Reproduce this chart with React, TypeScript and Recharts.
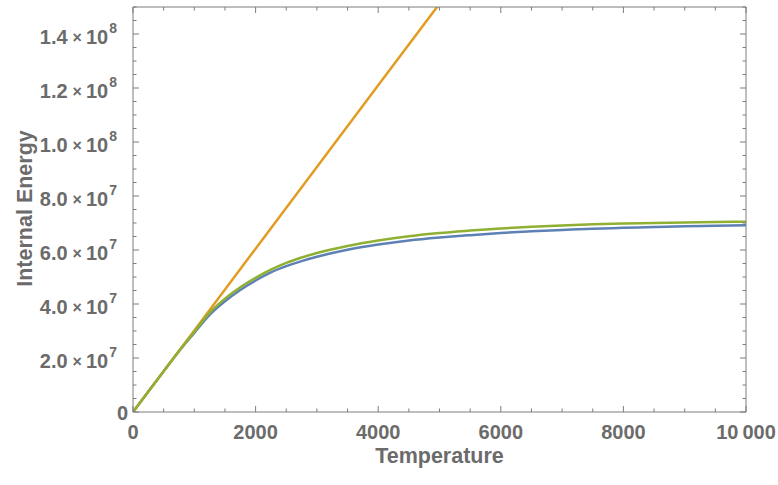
import React from 'react';
import { LineChart, Line, XAxis, YAxis } from 'recharts';

// Temperature samples (K)
const temps = [0, 250, 500, 750, 1000, 1250, 1500, 1750, 2000, 2250, 2500, 2750, 3000, 3500, 4000, 4500, 5000, 5500, 6000, 6500, 7000, 7500, 8000, 8500, 9000, 9500, 10000];
// Blue series (internal energy)
const blueValues = [0, 7.55e6, 1.51e7, 2.25e7, 2.93e7, 3.6e7, 4.1e7, 4.52e7, 4.87e7, 5.17e7, 5.4e7, 5.59e7, 5.75e7, 6.01e7, 6.2e7, 6.35e7, 6.46e7, 6.55e7, 6.63e7, 6.69e7, 6.74e7, 6.79e7, 6.82e7, 6.85e7, 6.88e7, 6.9e7, 6.92e7];
// Green series
const greenValues = [0, 7.55e6, 1.51e7, 2.26e7, 2.97e7, 3.68e7, 4.2e7, 4.62e7, 4.97e7, 5.27e7, 5.52e7, 5.72e7, 5.89e7, 6.15e7, 6.35e7, 6.51e7, 6.63e7, 6.72e7, 6.8e7, 6.86e7, 6.91e7, 6.95e7, 6.98e7, 7.0e7, 7.02e7, 7.04e7, 7.05e7];
// Orange (linear) series
const orangeTemps = [0, 1000, 2000, 3000, 4000, 5000];
const orangeValues = [0, 3.02e7, 6.05e7, 9.07e7, 1.21e8, 1.512e8];

// Tick labels
const xMajorTicks = [0, 2000, 4000, 6000, 8000, 10000];
const xTickLabels = ['0', '2000', '4000', '6000', '8000', '10\u2009000'];
const yMajorTicks = [0, 2e7, 4e7, 6e7, 8e7, 1e8, 1.2e8, 1.4e8];
const yTickMantissas = ['0', '2.0', '4.0', '6.0', '8.0', '1.0', '1.2', '1.4'];
const yTickExponents = ['', '7', '7', '7', '7', '8', '8', '8'];

const xAllTicks = Array.from({ length: 21 }, (_, i) => i * 500);
const yAllTicks = Array.from({ length: 31 }, (_, i) => i * 5e6);

const blueData = temps.map((t, i) => ({ t, u: blueValues[i] }));
const greenData = temps.map((t, i) => ({ t, u: greenValues[i] }));
const orangeData = orangeTemps.map((t, i) => ({ t, u: orangeValues[i] }));

const FRAME = '#7d7d7d';
const TEXT = '#6b6b6b';
const FONT = '"Liberation Sans", Arial, sans-serif';

const isMajorX = (v: number) => xMajorTicks.indexOf(v) >= 0;
const isMajorY = (v: number) => yMajorTicks.some((m) => Math.abs(m - v) < 1);

const BottomTick = (props: any) => {
  const { x, y, payload } = props;
  const v = payload.value;
  const idx = xMajorTicks.indexOf(v);
  const major = idx >= 0;
  return (
    <g>
      <line x1={x} x2={x} y1={y} y2={y - (major ? 6 : 3.5)} stroke={FRAME} strokeWidth={1} />
      {major && (
        <text x={x} y={y + 27} textAnchor="middle" fill={TEXT} fontFamily={FONT} fontWeight="bold" fontSize={20}>
          {xTickLabels[idx]}
        </text>
      )}
    </g>
  );
};

const TopTick = (props: any) => {
  const { x, y, payload } = props;
  const major = isMajorX(payload.value);
  return <line x1={x} x2={x} y1={y} y2={y + (major ? 6 : 3.5)} stroke={FRAME} strokeWidth={1} />;
};

const LeftTick = (props: any) => {
  const { x, y, payload } = props;
  const v = payload.value;
  const idx = yMajorTicks.findIndex((m) => Math.abs(m - v) < 1);
  const major = idx >= 0;
  let label: any = null;
  if (major) {
    const exp = yTickExponents[idx];
    if (exp === '') {
      label = (
        <text x={x - 5} y={y + 8} textAnchor="end" fill={TEXT} fontFamily={FONT} fontWeight="bold" fontSize={20}>
          {yTickMantissas[idx]}
        </text>
      );
    } else {
      label = (
        <text x={x - 16} y={y + 10} textAnchor="end" fill={TEXT} fontFamily={FONT} fontWeight="bold" fontSize={20}>
          <tspan>{yTickMantissas[idx]}</tspan>
          <tspan fontSize={16} dx={5} dy={-1}>{'\u00d7'}</tspan>
          <tspan dx={4} dy={1}>10</tspan>
          <tspan fontSize={14} dx={1} dy={-11}>{exp}</tspan>
        </text>
      );
    }
  }
  return (
    <g>
      <line x1={x} x2={x + (major ? 6 : 3.5)} y1={y} y2={y} stroke={FRAME} strokeWidth={1} />
      {label}
    </g>
  );
};

const RightTick = (props: any) => {
  const { x, y, payload } = props;
  const major = isMajorY(payload.value);
  return <line x1={x} x2={x - (major ? 6 : 3.5)} y1={y} y2={y} stroke={FRAME} strokeWidth={1} />;
};

const XLabel = (props: any) => {
  const vb = props.viewBox || { x: 133, y: 412, width: 613, height: 73 };
  return (
    <text x={vb.x + vb.width / 2} y={463} textAnchor="middle" fill={TEXT} fontFamily={FONT} fontWeight="bold" fontSize={21.5}>
      Temperature
    </text>
  );
};

const YLabel = (props: any) => {
  const vb = props.viewBox || { x: 0, y: 7, width: 133, height: 405 };
  const cy = vb.y + vb.height / 2 - 1;
  return (
    <text x={32} y={cy} transform={`rotate(-90, 32, ${cy})`} textAnchor="middle" fill={TEXT} fontFamily={FONT} fontWeight="bold" fontSize={21.5}>
      Internal Energy
    </text>
  );
};

export default function App() {
  return (
    <div style={{ position: 'absolute', left: 0, top: 0, width: 778, height: 485, background: '#fff' }}>
      <LineChart width={778} height={485} margin={{ top: 0, right: 0, bottom: 0, left: 0 }}>
        <XAxis
          dataKey="t"
          type="number"
          domain={[0, 10000]}
          ticks={xAllTicks}
          interval={0}
          height={73}
          tickSize={0}
          tickMargin={0}
          tickLine={false}
          axisLine={{ stroke: FRAME, strokeWidth: 1 }}
          tick={<BottomTick />}
          label={<XLabel />}
          allowDataOverflow
        />
        <XAxis
          xAxisId="top"
          orientation="top"
          dataKey="t"
          type="number"
          domain={[0, 10000]}
          ticks={xAllTicks}
          interval={0}
          height={7}
          tickSize={0}
          tickMargin={0}
          tickLine={false}
          axisLine={{ stroke: FRAME, strokeWidth: 1 }}
          tick={<TopTick />}
          allowDataOverflow
        />
        <YAxis
          type="number"
          domain={[0, 1.5e8]}
          ticks={yAllTicks}
          interval={0}
          width={133}
          tickSize={0}
          tickMargin={0}
          tickLine={false}
          axisLine={{ stroke: FRAME, strokeWidth: 1 }}
          tick={<LeftTick />}
          label={<YLabel />}
          allowDataOverflow
        />
        <YAxis
          yAxisId="right"
          orientation="right"
          type="number"
          domain={[0, 1.5e8]}
          ticks={yAllTicks}
          interval={0}
          width={32}
          tickSize={0}
          tickMargin={0}
          tickLine={false}
          axisLine={{ stroke: FRAME, strokeWidth: 1 }}
          tick={<RightTick />}
          allowDataOverflow
        />
        <Line data={blueData} dataKey="u" type="monotone" stroke="#5E81B5" strokeWidth={2.5} dot={false} isAnimationActive={false} />
        <Line data={orangeData} dataKey="u" type="linear" stroke="#E19C24" strokeWidth={2.5} dot={false} isAnimationActive={false} />
        <Line data={greenData} dataKey="u" type="monotone" stroke="#8FB032" strokeWidth={2.5} dot={false} isAnimationActive={false} />
      </LineChart>
    </div>
  );
}
